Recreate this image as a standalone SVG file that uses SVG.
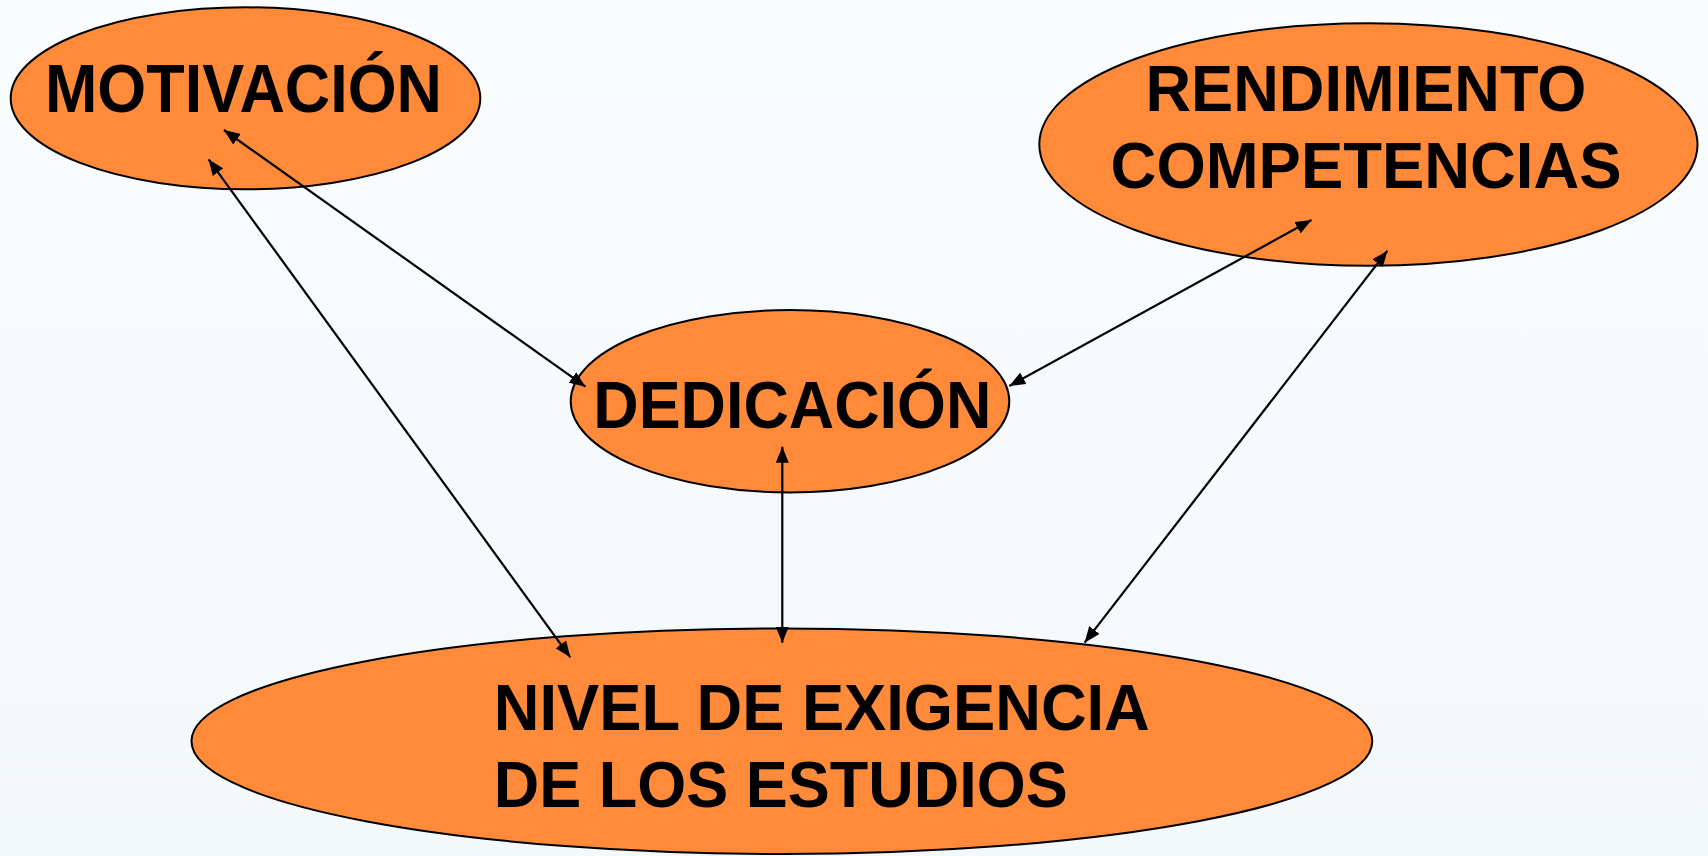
<svg xmlns="http://www.w3.org/2000/svg" width="1708" height="856" viewBox="0 0 1708 856">
<style>
.node{fill:#FF8A3A;stroke:#000;stroke-width:2}
.lbl{font-family:"Liberation Sans",Arial,sans-serif;font-weight:bold;fill:#000}
.conn{stroke:#000;stroke-width:2.2;fill:none;marker-start:url(#ah);marker-end:url(#ah)}
</style>
<defs>
<linearGradient id="bg" x1="0" y1="0" x2="0" y2="1">
<stop offset="0" stop-color="#FAFCFD"/>
<stop offset="1" stop-color="#F3F8FB"/>
</linearGradient>
<marker id="ah" viewBox="0 0 16 13" refX="16" refY="6.5" markerWidth="16" markerHeight="13" markerUnits="userSpaceOnUse" orient="auto-start-reverse">
<path d="M0,0 L16,6.5 L0,13 z" fill="#000"/>
</marker>
</defs>
<rect x="0" y="0" width="1708" height="856" fill="url(#bg)"/>
<g id="n-motivacion">
<ellipse class="node" cx="245.5" cy="98.3" rx="234.8" ry="91"/>
<text class="lbl" x="45" y="112" font-size="69" textLength="397" lengthAdjust="spacingAndGlyphs">MOTIVACIÓN</text>
</g>
<g id="n-rendimiento">
<ellipse class="node" cx="1368.4" cy="144.5" rx="329.1" ry="121.2"/>
<text class="lbl" x="1145.5" y="111" font-size="65" textLength="441" lengthAdjust="spacingAndGlyphs">RENDIMIENTO</text>
<text class="lbl" x="1110.6" y="188" font-size="65" textLength="511" lengthAdjust="spacingAndGlyphs">COMPETENCIAS</text>
</g>
<g id="n-dedicacion">
<ellipse class="node" cx="790" cy="401.2" rx="219.3" ry="91.2"/>
<text class="lbl" x="593.3" y="428.3" font-size="66" textLength="398" lengthAdjust="spacingAndGlyphs">DEDICACIÓN</text>
</g>
<g id="n-nivel">
<ellipse class="node" cx="781.9" cy="741.2" rx="590.4" ry="112.8"/>
<text class="lbl" x="493.8" y="730" font-size="64" textLength="656" lengthAdjust="spacingAndGlyphs">NIVEL DE EXIGENCIA</text>
<text class="lbl" x="493.8" y="806.7" font-size="64" textLength="574" lengthAdjust="spacingAndGlyphs">DE LOS ESTUDIOS</text>
</g>
<g id="connectors">
<path class="conn" d="M223.9,130 L585.5,386.7"/>
<path class="conn" d="M208.6,159.3 L570.3,657.3"/>
<path class="conn" d="M782.3,446.7 L782.3,642.7"/>
<path class="conn" d="M1311.5,220 L1009.3,386"/>
<path class="conn" d="M1387.4,250.7 L1084.6,642.7"/>
</g>
</svg>
